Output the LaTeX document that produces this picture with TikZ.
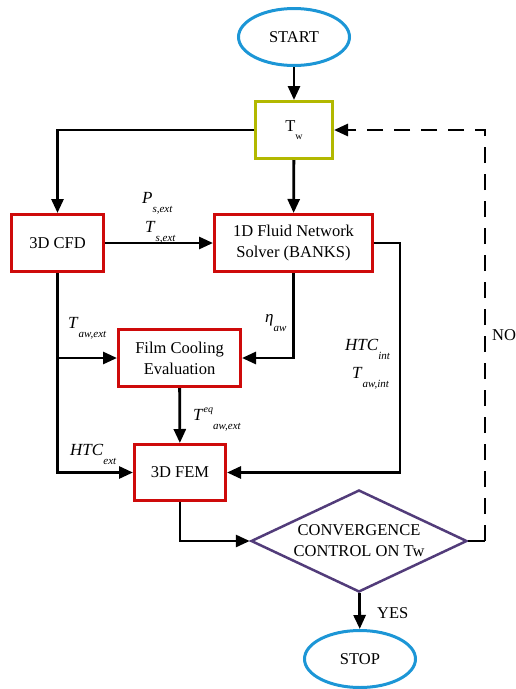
\documentclass[tikz,border=0pt]{standalone}
\usepackage{fontspec}
\setmainfont{Liberation Serif}
\usetikzlibrary{shapes.geometric,arrows.meta}
\definecolor{boxred}{RGB}{206,10,10}
\definecolor{boxolive}{RGB}{178,184,0}
\definecolor{ellblue}{RGB}{28,150,214}
\definecolor{dpurple}{RGB}{82,60,122}
\newcommand{\lab}[2]{\textit{#1}\raisebox{-0.55em}{\fontsize{11}{11}\selectfont\textit{#2}}}
\tikzset{
  base/.style={font=\fontsize{16.5}{21}\selectfont, align=center, inner sep=0pt},
  ell/.style={base, ellipse, draw=ellblue, line width=3pt, minimum width=111pt, minimum height=57pt},
  rbox/.style={base, rectangle, draw=boxred, line width=3pt},
  obox/.style={base, rectangle, draw=boxolive, line width=3pt},
  dbox/.style={base, diamond, draw=dpurple, line width=2.5pt, aspect=2.1},
  lbl/.style={font=\fontsize{17}{17}\selectfont, anchor=base west, inner sep=0pt},
  arr/.style={draw=black, line width=2.8pt, -{Triangle[length=14pt,width=12pt]}},
  conn/.style={draw=black, line width=2.8pt},
  dsh/.style={dash pattern=on 16pt off 11pt}
}
\begin{document}
\begin{tikzpicture}[x=1pt,y=-1pt]
\useasboundingbox (0,0) rectangle (516,689);
\node[ell] (start) at (294,37) {START};
\node[obox, minimum width=77pt, minimum height=57pt] (tw) at (294,130)
  {T\raisebox{-0.5em}{\fontsize{10}{10}\selectfont w}};
\node[rbox, minimum width=92pt, minimum height=57pt] (cfd) at (57.5,243) {3D CFD};
\node[rbox, minimum width=158pt, minimum height=57pt] (fluid) at (293.5,243) {1D Fluid Network\\Solver (BANKS)};
\node[rbox, minimum width=122pt, minimum height=57pt] (film) at (179.5,358) {Film Cooling\\Evaluation};
\node[rbox, minimum width=91pt, minimum height=56pt] (fem) at (180,472.5) {3D FEM};
\node[dbox, minimum width=216pt, minimum height=102pt] (conv) at (359,541) {CONVERGENCE\\CONTROL ON Tw};
\node[ell] (stop) at (360,659) {STOP};

\coordinate (rx) at (400,0);
\coordinate (nx) at (485,0);

\draw[arr] (start) -- (tw);
\draw[arr] (tw.west) -| (cfd.north);
\draw[arr] (tw) -- (fluid);
\draw[arr] (cfd) -- (fluid);
\draw[arr] (fluid.south) |- (film.east);
\draw[arr] (cfd.south) |- (fem.west);
\coordinate (br) at (cfd.south |- film.west);
\draw[arr] (br) -- (film.west);
\draw[arr] (film) -- (fem);
\draw[arr] (fluid.east) -- (fluid.east -| rx) |- (fem.east);
\draw[arr] (fem.south) |- (conv.west);
\draw[conn] (conv.east) -- (conv.east -| nx);
\draw[arr, dsh] (conv.east -| nx) |- (tw.east);
\draw[arr] (conv) -- (stop);

\node[lbl] (lp) at (142,203) {\lab{P}{s,ext}};
\node[lbl] (lts) at (145,232) {\lab{T}{s,ext}};
\node[lbl] (ltaw) at (68,328) {\lab{T}{aw,ext}};
\node[lbl] (leta) at (265,322) {\lab{η}{aw}};
\node[lbl] (lhi) at (345,350) {\lab{HTC}{int}};
\node[lbl] (ltai) at (352,378) {\lab{T}{aw,int}};
\node[lbl] (lhe) at (70,455) {\lab{HTC}{ext}};
\node[lbl] (lteq) at (193,420) {\textit{T}\raisebox{0.45em}{\fontsize{10}{10}\selectfont\textit{eq}}\raisebox{-0.55em}{\fontsize{11}{11}\selectfont\textit{aw,ext}}};
\node[lbl, font=\fontsize{16.5}{16.5}\selectfont] (lno) at (492,340) {NO};
\node[lbl, font=\fontsize{16.5}{16.5}\selectfont] (lyes) at (377,618) {YES};
\end{tikzpicture}
\end{document}
